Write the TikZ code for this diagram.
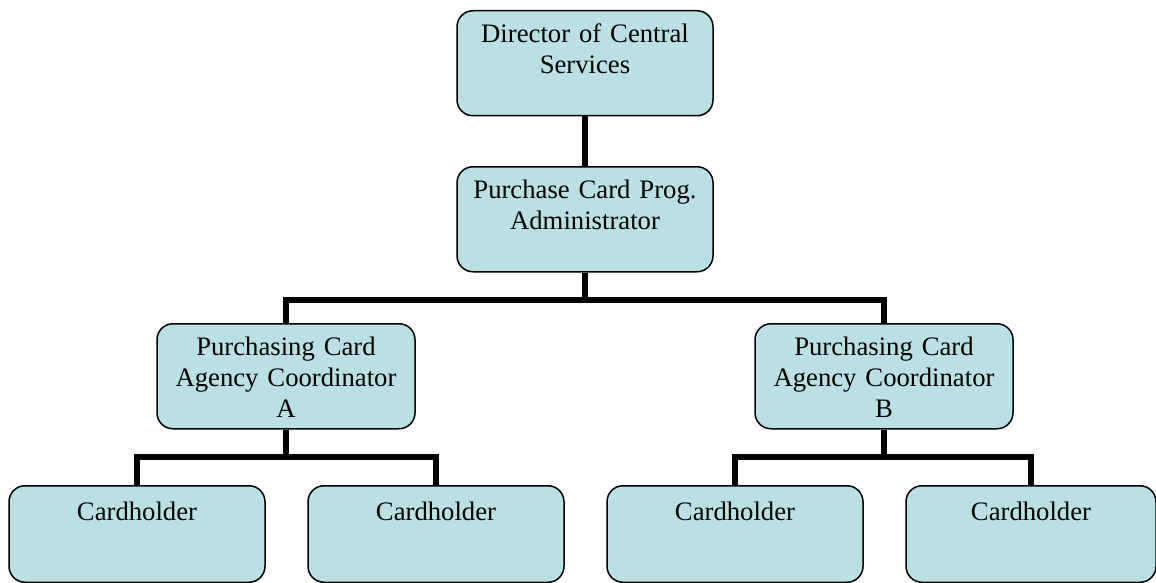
\documentclass[tikz,border=0pt]{standalone}
\usepackage{fontspec}
\setmainfont{Liberation Serif}
\definecolor{boxfill}{RGB}{186,224,227}

\begin{document}
\begin{tikzpicture}[x=1pt,y=-1pt,
    post/.style={draw=black,line width=1.5pt,fill=boxfill,rounded corners=16pt,
      anchor=north,align=center,text width=240pt,inner xsep=8pt,inner ysep=8pt,
      text height=24pt,text depth=65pt,font=\fontsize{26.7}{30.7}\selectfont},
    coord/.style={post,text width=242pt},
    holder/.style={post,text height=26.5pt,text depth=54pt},
    link/.style={line width=5.3pt}]
        \clip (0,0) rectangle (1156,583);

        \node[post] (dir) at (585,10) {Director of Central\\Services};
        \node[post] (adm) at (585,166) {Purchase Card Prog.\\Administrator};

        \node[coord] (coordA) at (286,323) {Purchasing Card\\Agency Coordinator\\A};
        \node[coord] (coordB) at (884,323) {Purchasing Card\\Agency Coordinator\\B};

        \node[holder] (holdA1) at (137,485) {Cardholder};
        \node[holder] (holdA2) at (436,485) {Cardholder};
        \node[holder] (holdB1) at (735,485) {Cardholder};
        \node[holder,text width=234pt] (holdB2) at (1031,485) {Cardholder};

        \coordinate (busTop) at (585,300);
        \coordinate (busA) at (286,457);
        \coordinate (busB) at (884,457);

        \draw[link] (dir.south) -- (adm.north);
        \draw[link] (adm.south) -- (busTop);
        \draw[link] (coordA.north) |- (busTop) -| (coordB.north);

        \draw[link] (coordA.south) -- (busA);
        \draw[link] (holdA1.north) |- (busA) -| (holdA2.north);

        \draw[link] (coordB.south) -- (busB);
        \draw[link] (holdB1.north) |- (busB) -| (holdB2.north);
      \end{tikzpicture}
\end{document}
